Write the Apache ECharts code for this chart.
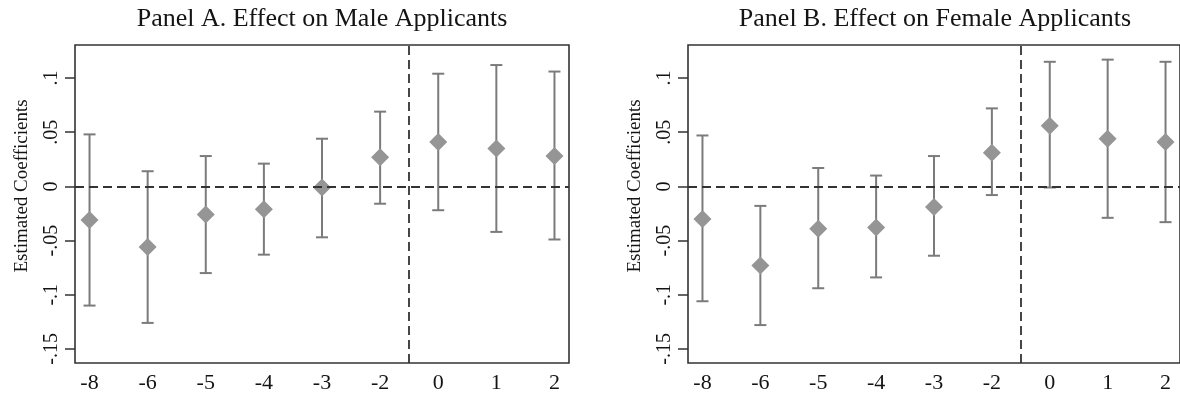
<!DOCTYPE html>
<html>
<head>
<meta charset="utf-8">
<script src="https://cdn.jsdelivr.net/npm/echarts@6/dist/echarts.min.js"></script>
<style>
  html, body { margin: 0; padding: 0; background: #fff; }
  #chart { width: 1180px; height: 401px; }
</style>
</head>
<body>
<div id="chart"></div>
<script>
// Event time (periods relative to the reform); -1 is the omitted reference period
const eventTimes = ['-8', '-6', '-5', '-4', '-3', '-2', '0', '1', '2'];

// y-axis ticks and their Stata-style labels
const yTicks = [-0.15, -0.1, -0.05, 0, 0.05, 0.1];
const yTickLabels = ['-.15', '-.1', '-.05', '0', '.05', '.1'];

// Panel A: male applicants — point estimates and 95% CI bounds
const maleCoef  = [-0.031, -0.056, -0.026, -0.021, -0.001, 0.027, 0.041, 0.035, 0.028];
const maleUpper = [ 0.048,  0.014,  0.028,  0.021,  0.044, 0.069, 0.104, 0.112, 0.106];
const maleLower = [-0.110, -0.126, -0.080, -0.063, -0.047, -0.016, -0.022, -0.042, -0.049];

// Panel B: female applicants — point estimates and 95% CI bounds
const femaleCoef  = [-0.030, -0.073, -0.039, -0.038, -0.019, 0.031, 0.056, 0.044, 0.041];
const femaleUpper = [ 0.047, -0.018,  0.017,  0.010,  0.028, 0.072, 0.115, 0.117, 0.115];
const femaleLower = [-0.106, -0.128, -0.094, -0.084, -0.064, -0.008, -0.001, -0.029, -0.033];

// The reform line sits between event times -2 and 0
const reformLinePos = 6.5;

const panelTitles = ['Panel A. Effect on Male Applicants', 'Panel B. Effect on Female Applicants'];
const yTitle = 'Estimated Coefficients';

// ---- styling ----
const FONT = '"Liberation Serif", "Times New Roman", serif';
const TEXT = '#141414';
const FRAME = '#333333';
const BAR = '#7b7b7b';
const MARK = '#959595';

const positions = eventTimes.map((_, i) => i + 1);

const gridLefts = [75, 688];
const GRID_TOP = 45, GRID_W = 494, GRID_H = 318;

function errorBarItem(params, api) {
  const x = api.value(0);
  const lo = api.coord([x, api.value(1)]);
  const hi = api.coord([x, api.value(2)]);
  const half = 6;
  const style = { stroke: BAR, lineWidth: 2 };
  return {
    type: 'group',
    children: [
      { type: 'line', shape: { x1: hi[0], y1: hi[1], x2: lo[0], y2: lo[1] }, style },
      { type: 'line', shape: { x1: hi[0] - half, y1: hi[1], x2: hi[0] + half, y2: hi[1] }, style },
      { type: 'line', shape: { x1: lo[0] - half, y1: lo[1], x2: lo[0] + half, y2: lo[1] }, style }
    ]
  };
}

const panels = [
  { coef: maleCoef, upper: maleUpper, lower: maleLower },
  { coef: femaleCoef, upper: femaleUpper, lower: femaleLower }
];

const grid = [], xAxis = [], yAxis = [], series = [], graphic = [];

panels.forEach((p, k) => {
  grid.push({
    left: gridLefts[k], top: GRID_TOP, width: GRID_W, height: GRID_H,
    show: true, borderColor: FRAME, borderWidth: 1.6, backgroundColor: 'transparent'
  });

  xAxis.push({
    gridIndex: k, type: 'value', min: 0.75, max: 9.25,
    axisLine: { show: false }, axisTick: { show: false }, splitLine: { show: false },
    axisLabel: {
      customValues: positions,
      formatter: v => eventTimes[Math.round(v) - 1],
      fontFamily: FONT, fontSize: 22, color: TEXT, margin: 9
    }
  });

  yAxis.push({
    gridIndex: k, type: 'value', min: -0.163, max: 0.1305,
    axisLine: { show: false }, splitLine: { show: false },
    axisTick: { show: true, customValues: yTicks, length: 10, lineStyle: { color: FRAME, width: 1.5 } },
    axisLabel: {
      customValues: yTicks, rotate: 90,
      formatter: v => yTickLabels[yTicks.findIndex(t => Math.abs(t - v) < 1e-9)],
      fontFamily: FONT, fontSize: 20, color: TEXT, margin: 13
    }
  });

  // dashed reference lines (zero effect and reform date), drawn beneath the estimates
  series.push({
    type: 'line', xAxisIndex: k, yAxisIndex: k, data: [], z: 1, silent: true,
    markLine: {
      symbol: 'none', silent: true, label: { show: false },
      lineStyle: { color: FRAME, width: 1.8, type: [9, 5] },
      data: [{ yAxis: 0 }, { xAxis: reformLinePos }]
    }
  });

  // confidence intervals with caps
  series.push({
    type: 'custom', xAxisIndex: k, yAxisIndex: k, z: 2,
    renderItem: errorBarItem,
    encode: { x: 0, y: [1, 2] },
    data: positions.map((x, i) => [x, p.lower[i], p.upper[i]])
  });

  // point estimates
  series.push({
    type: 'scatter', xAxisIndex: k, yAxisIndex: k, z: 3,
    symbol: 'diamond', symbolSize: [18, 18],
    itemStyle: { color: MARK, opacity: 1 },
    data: positions.map((x, i) => [x, p.coef[i]])
  });

  const cx = gridLefts[k] + GRID_W / 2;
  graphic.push({
    type: 'text', x: k === 0 ? cx : 935, y: 19,
    style: { text: panelTitles[k], font: '26px ' + FONT, fill: TEXT, textAlign: 'center', textVerticalAlign: 'middle' }
  });
  graphic.push({
    type: 'text', x: gridLefts[k] - 53, y: 186, rotation: Math.PI / 2,
    style: { text: yTitle, font: '19px ' + FONT, fill: TEXT, textAlign: 'center', textVerticalAlign: 'middle' }
  });
});

const chart = echarts.init(document.getElementById('chart'), null, { renderer: 'canvas' });
chart.setOption({
  animation: false,
  backgroundColor: '#ffffff',
  grid, xAxis, yAxis, series, graphic
});
</script>
</body>
</html>
